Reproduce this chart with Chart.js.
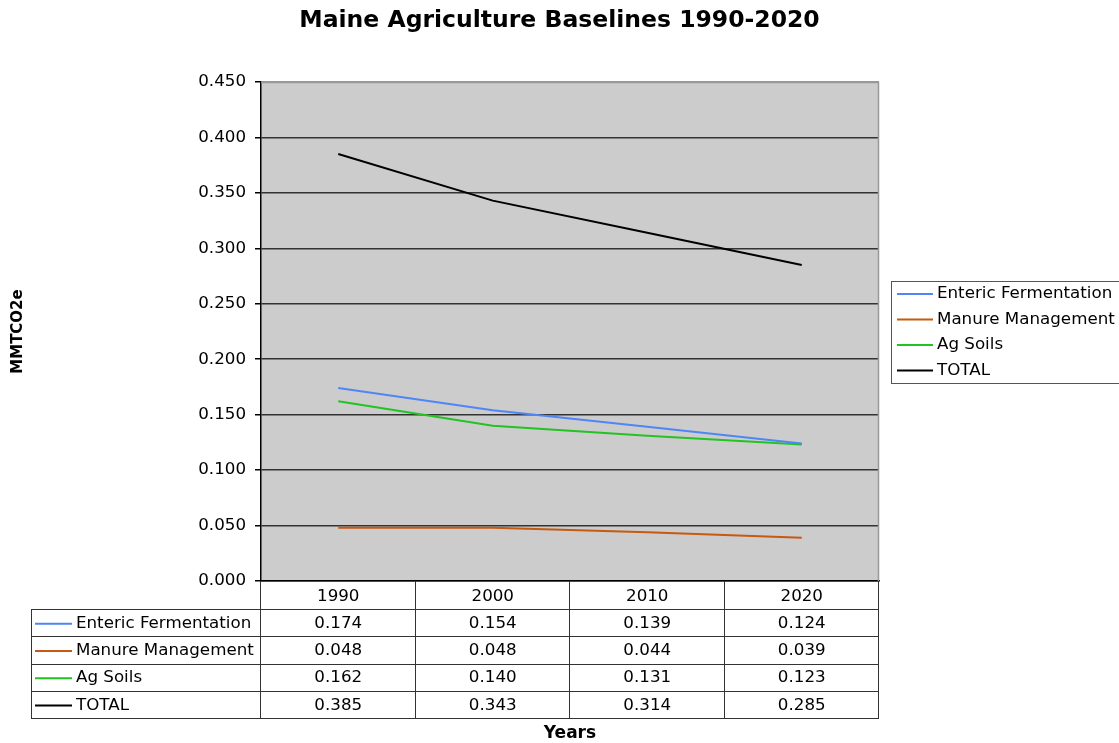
<!DOCTYPE html>
<html>
<head>
<meta charset="utf-8">
<title>Maine Agriculture Baselines 1990-2020</title>
<script src="https://cdn.jsdelivr.net/npm/chart.js@4/dist/chart.umd.min.js"></script>
<style>
  body { margin: 0; background: #fff; }
  #wrap { width: 1119px; height: 743px; }
</style>
</head>
<body>
<div id="wrap"><canvas id="myChart" width="1119" height="743"></canvas></div>
<script>
const FONT = "Verdana, 'DejaVu Sans', sans-serif";
const TEXT_SIZE = 16.7;

// chart data
const years = ["1990", "2000", "2010", "2020"];
const entericFermentation = [0.174, 0.154, 0.139, 0.124];
const manureManagement = [0.048, 0.048, 0.044, 0.039];
const agSoils = [0.162, 0.140, 0.131, 0.123];
const total = [0.385, 0.343, 0.314, 0.285];
const yTicks = { min: 0, max: 0.45, step: 0.05 };

const seriesColors = ["#4F86F7", "#C55A11", "#22C322", "#000000"];

const ctx = document.getElementById("myChart").getContext("2d");

function makeSet(label, data, color) {
  return {
    label: label,
    data: data,
    borderColor: color,
    backgroundColor: color,
    borderWidth: 2,
    pointRadius: 0,
    tension: 0,
    fill: false
  };
}

const chartData = {
  labels: years,
  datasets: [
    makeSet("Enteric Fermentation", entericFermentation, seriesColors[0]),
    makeSet("Manure Management", manureManagement, seriesColors[1]),
    makeSet("Ag Soils", agSoils, seriesColors[2]),
    makeSet("TOTAL", total, seriesColors[3])
  ]
};

// gray plot background, data table under the x axis and the legend box
const tablePlugin = {
  id: "dataTable",
  beforeDraw(chart) {
    const a = chart.chartArea;
    const c = chart.ctx;
    c.save();
    c.fillStyle = "#CCCCCC";
    c.fillRect(a.left, a.top, a.right - a.left, a.bottom - a.top);
    c.restore();
  },
  afterDraw(chart) {
    const a = chart.chartArea;
    const c = chart.ctx;
    const xs = chart.scales.x;
    const colW = (a.right - a.left) / years.length;

    c.save();
    // plot border, top and right
    c.strokeStyle = "#999999";
    c.lineWidth = 1.5;
    c.beginPath();
    c.moveTo(a.left, a.top + 0.5);
    c.lineTo(a.right - 0.5, a.top + 0.5);
    c.lineTo(a.right - 0.5, a.bottom);
    c.stroke();

    // table grid
    const tableLeft = 31;
    const headerBottom = 609;
    const rowH = 27.25;
    const tableBottom = headerBottom + rowH * chartData.datasets.length;
    c.strokeStyle = "#333333";
    c.lineWidth = 1;
    c.beginPath();
    for (let r = 0; r <= chartData.datasets.length; r++) {
      const y = Math.round(headerBottom + r * rowH) + 0.5;
      c.moveTo(tableLeft, y);
      c.lineTo(a.right, y);
    }
    c.moveTo(tableLeft + 0.5, headerBottom);
    c.lineTo(tableLeft + 0.5, tableBottom);
    for (let i = 0; i <= years.length; i++) {
      const x = Math.round(a.left + i * colW) - 0.5;
      c.moveTo(x, a.bottom);
      c.lineTo(x, tableBottom);
    }
    c.stroke();

    // table rows: series key + values
    c.font = TEXT_SIZE + "px " + FONT;
    c.textBaseline = "middle";
    chartData.datasets.forEach((ds, r) => {
      const yMid = headerBottom + r * rowH + rowH / 2 + 1;
      c.strokeStyle = ds.borderColor;
      c.lineWidth = 2;
      c.beginPath();
      c.moveTo(35, yMid);
      c.lineTo(72, yMid);
      c.stroke();
      c.fillStyle = "#000";
      c.textAlign = "left";
      c.fillText(ds.label, 76, yMid);
      c.textAlign = "center";
      ds.data.forEach((v, i) => {
        c.fillText(v.toFixed(3), xs.getPixelForValue(i), yMid);
      });
    });

    // legend box on the right
    const lx = 891, ly = 281, lh = 102;
    c.strokeStyle = "#555555";
    c.lineWidth = 1;
    c.strokeRect(lx + 0.5, ly + 0.5, 400, lh);
    chartData.datasets.forEach((ds, k) => {
      const y = 294 + k * 25.5;
      c.strokeStyle = ds.borderColor;
      c.lineWidth = 2;
      c.beginPath();
      c.moveTo(897, y);
      c.lineTo(933, y);
      c.stroke();
      c.fillStyle = "#000";
      c.textAlign = "left";
      c.fillText(ds.label, 937, y);
    });
    c.restore();
  }
};

const chartOptions = {
  responsive: false,
  animation: false,
  layout: {
    padding: 0
  },
  plugins: {
    legend: { display: false },
    tooltip: { enabled: false },
    title: {
      display: true,
      text: "Maine Agriculture Baselines 1990-2020",
      color: "#000",
      font: { family: FONT, size: 23.5, weight: "bold", lineHeight: 1.2 },
      padding: { top: 7, bottom: 46.8 }
    }
  },
  scales: {
    x: {
      type: "category",
      offset: true,
      afterFit(scale) { scale.height = 162; },
      grid: { display: false, drawTicks: false },
      border: { display: true, color: "#000", width: 1.5 },
      ticks: {
        color: "#000",
        font: { family: FONT, size: TEXT_SIZE },
        padding: 6,
        maxRotation: 0
      },
      title: {
        display: true,
        text: "Years",
        color: "#000",
        font: { family: FONT, size: 17, weight: "bold" },
        padding: { top: 0, bottom: -1 }
      }
    },
    y: {
      min: yTicks.min,
      max: yTicks.max,
      afterFit(scale) { scale.width = 261; },
      grid: {
        color: (c) => (c.index === 9 ? "#999999" : "#333333"),
        lineWidth: 1.5,
        tickColor: "#000",
        tickLength: 6
      },
      border: { display: true, color: "#000", width: 1.5 },
      ticks: {
        stepSize: yTicks.step,
        color: "#000",
        font: { family: FONT, size: TEXT_SIZE },
        padding: 9,
        callback: (v) => Number(v).toFixed(3)
      },
      title: {
        display: true,
        text: "MMTCO2e",
        color: "#000",
        font: { family: FONT, size: 15, weight: "bold" },
        padding: { top: 9, bottom: 0 }
      }
    },
    // empty axis on the right that keeps room for the legend box
    side: {
      position: "right",
      afterFit(scale) { scale.width = 240; },
      grid: { display: false },
      border: { display: false },
      ticks: { display: false }
    }
  }
};

const chart = new Chart(ctx, {
  type: "line",
  data: chartData,
  options: chartOptions,
  plugins: [tablePlugin]
});
</script>
</body>
</html>
